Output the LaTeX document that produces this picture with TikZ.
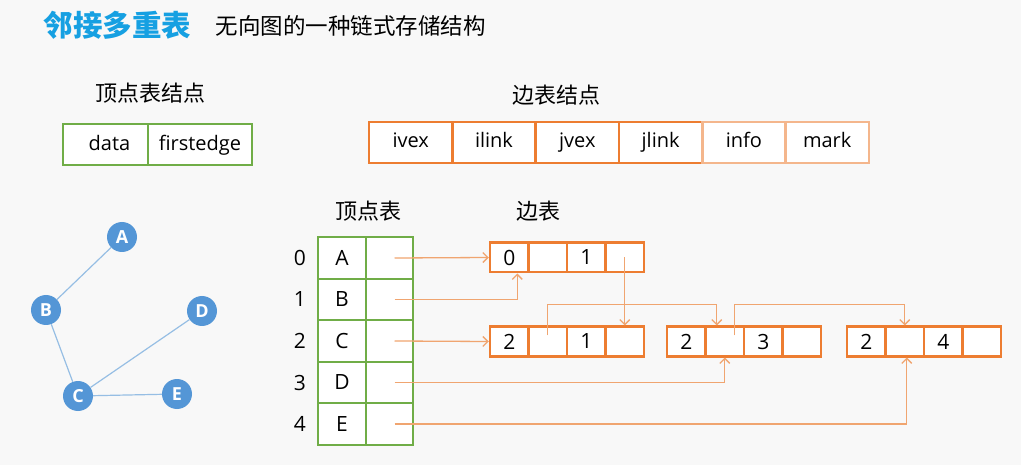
\documentclass[tikz,border=0pt]{standalone}
\usepackage{fontspec}
\setmainfont{Open Sans}
\newfontfamily\cjk{Noto Sans CJK SC}
\usetikzlibrary{positioning,arrows.meta}
\definecolor{bggray}{RGB}{248,248,248}
\definecolor{titleblue}{RGB}{22,160,226}
\definecolor{vgreen}{RGB}{112,173,71}
\definecolor{eorange}{RGB}{237,125,49}
\definecolor{lorange}{RGB}{244,182,140}
\definecolor{linkorange}{RGB}{240,165,112}
\definecolor{gblue}{RGB}{84,150,214}
\definecolor{gline}{RGB}{150,190,228}

\begin{document}
\begin{tikzpicture}[x=1pt,y=-1pt,node distance=38.5pt,on grid,>={Straight Barb[length=5pt,width=10pt]}]
  \tikzset{heading/.style={font=\cjk\fontsize{22}{26}\selectfont}}
  \tikzset{field/.style={draw=eorange,line width=2.5pt,fill=white,minimum width=83.3pt,minimum height=41pt,inner sep=0pt,text height=15pt,text depth=4pt,font=\fontsize{20}{24}\selectfont}}
  \tikzset{vfield/.style={draw=vgreen,line width=2pt,fill=white,minimum height=41pt,inner sep=0pt,text height=15.5pt,text depth=2.5pt,font=\fontsize{20}{24}\selectfont}}
  \tikzset{vcell/.style={draw=vgreen,line width=2pt,fill=white,minimum width=47.5pt,minimum height=41.5pt,inner sep=0pt,font=\fontsize{21}{24}\selectfont}}
  \tikzset{ecell/.style={draw=eorange,line width=2.5pt,fill=white,minimum width=38.5pt,minimum height=29.5pt,inner sep=0pt,font=\fontsize{21}{24}\selectfont}}
  \tikzset{gnode/.style={circle,fill=gblue,minimum size=30pt,inner sep=0pt,text=white,font=\bfseries\fontsize{18}{20}\selectfont}}
  \tikzset{link/.style={->,draw=linkorange,line width=1.3pt}}
  \path[use as bounding box,fill=bggray] (0,0) rectangle (1021,465);
  \node[anchor=west,text=titleblue,font=\cjk\bfseries\fontsize{29.5}{32}\selectfont] (title) at (40,25) {邻接多重表};
  \node[anchor=west,font=\cjk\fontsize{22.5}{26}\selectfont] (subtitle) at (212,26) {无向图的一种链式存储结构};
  \node[heading] (vnodehead) at (150,93) {顶点表结点};
  \node[heading] (enodehead) at (556,95) {边表结点};
  \node[vfield,minimum width=85pt] (data) at (105.5,144.5) {\hspace{8pt}data};
  \node[vfield,minimum width=104pt] (firstedge) [right = 94.5pt of data] {firstedge};
  \node[field] (ivex) at (410.7,142.5) {ivex};
  \node[field] (ilink) [right = 83.3pt of ivex] {ilink};
  \node[field] (jvex) [right = 83.3pt of ilink] {jvex};
  \node[field] (jlink) [right = 83.3pt of jvex] {jlink};
  \node[field,draw=lorange] (info) [right = 83.3pt of jlink] {info};
  \node[field,draw=lorange] (mark) [right = 83.3pt of info] {mark};
  \node[gnode] (A) at (122,237) {A};
  \node[gnode] (B) at (46,310) {B};
  \node[gnode] (D) at (202,311) {D};
  \node[gnode] (C) at (78,396) {C};
  \node[gnode] (E) at (177,394) {E};
  \path[draw=gline,line width=1.2pt]
  (A) edge (B)
  (B) edge (C)
  (C) edge (D)
  (C) edge (E)
  ;
  \node[heading] (vtablehead) at (368,211) {顶点表};
  \node[heading] (etablehead) at (538,211) {边表};
  \node[vcell] (d0) at (342,258) {A};
  \node[vcell] (d1) [below = 41.5pt of d0] {B};
  \node[vcell] (d2) [below = 41.5pt of d1] {C};
  \node[vcell] (d3) [below = 41.5pt of d2] {D};
  \node[vcell] (d4) [below = 41.5pt of d3] {E};
  \node[vcell] (f0) [right = 47.5pt of d0] {};
  \node[vcell] (f1) [right = 47.5pt of d1] {};
  \node[vcell] (f2) [right = 47.5pt of d2] {};
  \node[vcell] (f3) [right = 47.5pt of d3] {};
  \node[vcell] (f4) [right = 47.5pt of d4] {};
  \node[font=\fontsize{21}{24}\selectfont] (i0) [left = 42pt of d0] {0};
  \node[font=\fontsize{21}{24}\selectfont] (i1) [left = 42pt of d1] {1};
  \node[font=\fontsize{21}{24}\selectfont] (i2) [left = 42pt of d2] {2};
  \node[font=\fontsize{21}{24}\selectfont] (i3) [left = 42pt of d3] {3};
  \node[font=\fontsize{21}{24}\selectfont] (i4) [left = 42pt of d4] {4};
  \node[ecell] (e1a) at (509.25,257.5) {0};
  \node[ecell] (e1b) [right = of e1a] {};
  \node[ecell] (e1c) [right = of e1b] {1};
  \node[ecell] (e1d) [right = of e1c] {};
  \node[ecell] (e2a) at (509.25,341.5) {2};
  \node[ecell] (e2b) [right = of e2a] {};
  \node[ecell] (e2c) [right = of e2b] {1};
  \node[ecell] (e2d) [right = of e2c] {};
  \node[ecell] (e3a) at (686.25,341.5) {2};
  \node[ecell] (e3b) [right = of e3a] {};
  \node[ecell] (e3c) [right = of e3b] {3};
  \node[ecell] (e3d) [right = of e3c] {};
  \node[ecell] (e4a) at (866.25,341.5) {2};
  \node[ecell] (e4b) [right = of e4a] {};
  \node[ecell] (e4c) [right = of e4b] {4};
  \node[ecell] (e4d) [right = of e4c] {};
  \draw[link] ([xshift=5pt]f0.center) -- (e1a.west);
  \draw[link] ([xshift=5pt]f1.center) -| ([xshift=8pt]e1a.south);
  \draw[link] ([xshift=5pt]f2.center) -- (e2a.west);
  \draw[link] ([xshift=5pt]f3.center) -| (e3b.south);
  \draw[link] ([xshift=5pt]f4.center) -| ([xshift=2pt]e4b.south);
  \draw[link] (e1d.center) -- (e2d.north);
  \draw[link] ([yshift=6pt]e2b.center) |- ([xshift=-8pt,yshift=21pt]e3b.north) -- ([xshift=-8pt]e3b.north);
  \draw[link] ([xshift=10pt,yshift=6pt]e3b.center) |- ([yshift=21pt]e4b.north) -- (e4b.north);
\end{tikzpicture}
\end{document}
